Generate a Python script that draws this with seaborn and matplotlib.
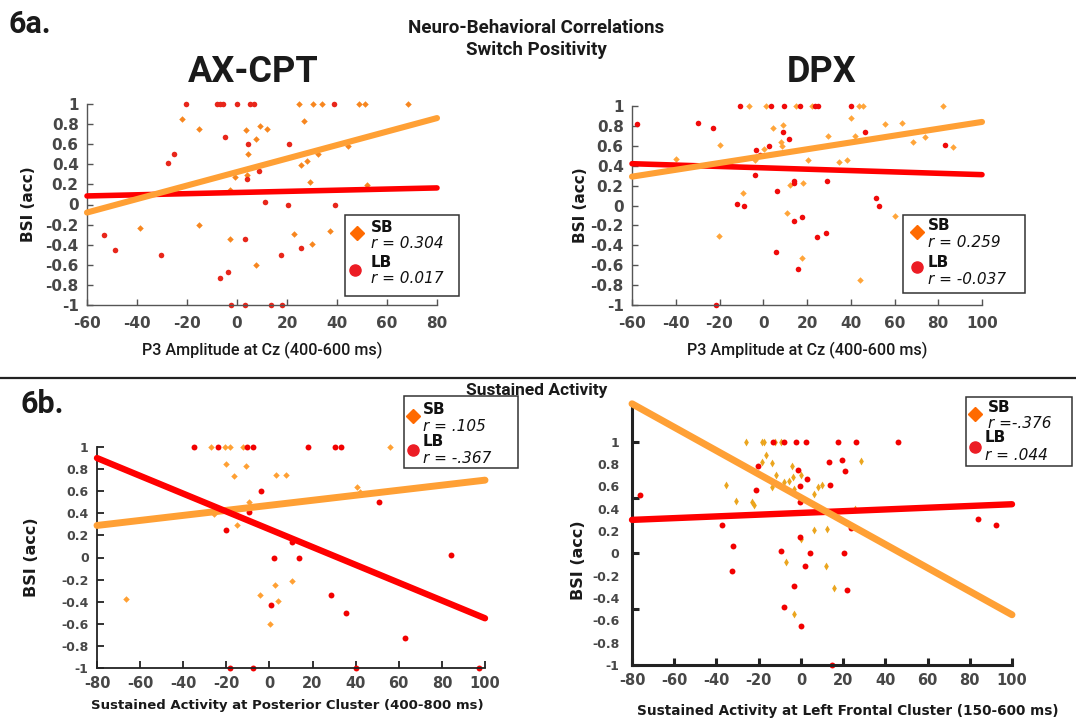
import numpy as np
import pandas as pd
import matplotlib
matplotlib.use("Agg")
import matplotlib.pyplot as plt
import seaborn as sns
from matplotlib.patches import Rectangle
from matplotlib.lines import Line2D

# ---------------- data ----------------
# Panel 6a left: AX-CPT
ax_sb_x = [-21.9, -15.2, 3.7, 9.3, 12, 7.7, 4.4, 26.7, 24.8, 30.4, 34.1, 48.8, 51.1, 68.4, 44.4,
           32.4, 25.7, 28.1, -0.8, 4, -2.9, 29.3, 52, -15.2, -38.8, -2.9, 22.8, 37.1, 29.9, 7.7]
ax_sb_y = [0.85, 0.75, 0.74, 0.78, 0.75, 0.65, 0.5, 0.83, 1, 1, 1, 1, 1, 1, 0.58,
           0.5, 0.39, 0.43, 0.27, 0.29, 0.14, 0.22, 0.19, -0.2, -0.23, -0.34, -0.29, -0.26, -0.39, -0.6]
ax_lb_x = [-20.3, -8, -7, -5.6, 0.1, 5.3, 6.7, 38.7, -4.7, 4.4, 20.8, -25.2, -27.6, 8.8, 4,
           11.3, 20.4, 39, -53.2, -49, -30.3, 3.3, 25.5, 17.7, -6.7, -3.7, -2.5, 3.1, 13.6, 18]
ax_lb_y = [1, 1, 1, 1, 1, 1, 1, 1, 0.67, 0.6, 0.6, 0.5, 0.41, 0.33, 0.25,
           0.02, 0, 0, -0.3, -0.45, -0.5, -0.34, -0.43, -0.5, -0.73, -0.67, -1, -1, -1, -1]
ax_fit_x = [-60, 80]
ax_sb_fit = [-0.08, 0.86]
ax_lb_fit = [0.085, 0.165]

# Panel 6a right: DPX
dpx_sb_x = [-6.6, 1.1, 14.8, 22.4, 43.8, 45.8, 82.1, 40.2, 4.6, 9.2, 8.1, 8.7, -19.8, -39.7, 0.5, -3.7, 20.3,
            29.8, 42, 34.8, 38.3, 55.7, 63.4, 68.4, 74, 86.7, 12.1, 18, -9.2, 11, 60, -20.3, 17.9, 44.3]
dpx_sb_y = [1, 1, 1, 1, 1, 1, 1, 0.88, 0.78, 0.81, 0.64, 0.6, 0.61, 0.47, 0.57, 0.46, 0.46,
            0.7, 0.7, 0.44, 0.46, 0.82, 0.83, 0.64, 0.69, 0.59, 0.21, 0.23, 0.13, -0.08, -0.11, -0.31, -0.53, -0.75]
dpx_lb_x = [-57.6, -29.8, -22.9, -10.8, 3.4, 9.5, 17, 23.7, 24.9, 40.2, 9.2, 11.6, -3.4, -1.4, 2.4, 46.6, 82.9,
            -3.8, 14.2, 14.2, 29.3, 6.1, -12.2, -9, 51.6, 52.7, 14.2, 17.9, 24.6, 28.5, 5.6, 16, -21.5]
dpx_lb_y = [0.82, 0.83, 0.78, 1, 1, 1, 1, 1, 1, 1, 0.74, 0.67, 0.56, 0.51, 0.6, 0.74, 0.61,
            0.31, 0.25, 0.23, 0.25, 0.15, 0.02, 0, 0.08, 0, -0.16, -0.12, -0.32, -0.28, -0.47, -0.64, -1]
dpx_fit_x = [-60, 100]
dpx_sb_fit = [0.29, 0.84]
dpx_lb_fit = [0.42, 0.31]

# Panel 6b left: posterior cluster
post_sb_x = [-27, -20.8, -18.5, -12.3, 55.7, -20.3, -11.1, -16.5, 3.2, 7.9, 40.7, 41.8, -9.5, -25.7,
             -15.1, 10.4, 2.8, -4.6, 4.2, 0.4, -66.7]
post_sb_y = [1, 1, 1, 1, 1, 0.85, 0.83, 0.74, 0.75, 0.75, 0.64, 0.59, 0.5, 0.39,
             0.29, -0.21, -0.25, -0.34, -0.39, -0.6, -0.38]
post_lb_x = [-35, -23.7, -10.4, -7.7, 18, 30.2, 33.3, -3.8, 50.8, -9.5, -20.3, 10.4, 2.1, 13.5, 84.3,
             28.7, 0.5, 35.3, 62.7, -18.5, -7.4, 40.2, 97.4]
post_lb_y = [1, 1, 1, 1, 1, 1, 1, 0.6, 0.5, 0.41, 0.25, 0.14, 0, 0, 0.02,
             -0.34, -0.43, -0.5, -0.73, -1, -1, -1, -1]
post_fit_x = [-80, 100]
post_sb_fit = [0.29, 0.70]
post_lb_fit = [0.90, -0.55]

# Panel 6b right: left frontal cluster
front_sb_x = [-25.9, -18.5, -17.7, -12.2, -9.5, -16.4, -18.3, -13.6, -4.3, -11.7, -3.8, 0, -7.9, -5.6, -13.8,
              -3.2, 8, 10.2, 6, -35.7, -30.8, -23, -22.1, 28.4, 6.3, 12.4, 0, -7.1, 12.1, 15.7, -3.5, 25.4]
front_sb_y = [1, 1, 1, 1, 1, 0.88, 0.82, 0.81, 0.78, 0.7, 0.68, 0.7, 0.64, 0.65, 0.59,
              0.58, 0.59, 0.61, 0.53, 0.61, 0.47, 0.46, 0.43, 0.83, 0.21, 0.22, 0.13, -0.08, -0.11, -0.31, -0.54, 0.4]
front_lb_x = [-13.4, -8.2, -2.4, 2.3, 17.8, 26.3, 46, -20.2, -1.5, 2.8, 13.5, 19.4, 21.1, -21.5, -0.5, 14, -0.3,
              -76.4, -37.4, -32.2, -32.4, -0.3, -9.2, 4.1, 20.2, 2, 23.5, -3.5, 22, -7.8, 0.1, 14.8, 84, 92.2]
front_lb_y = [1, 1, 1, 1, 1, 1, 1, 0.78, 0.75, 0.67, 0.82, 0.84, 0.74, 0.57, 0.6, 0.61, 0.46,
              0.52, 0.25, 0.07, -0.16, 0.15, 0.02, 0, 0, -0.11, 0.23, -0.29, -0.33, -0.48, -0.65, -1, 0.31, 0.25]
front_fit_x = [-80, 100]
front_sb_fit = [1.34, -0.55]
front_lb_fit = [0.30, 0.44]

y_ticks = [1, 0.8, 0.6, 0.4, 0.2, 0, -0.2, -0.4, -0.6, -0.8, -1]
y_tick_labels = ["1", "0.8", "0.6", "0.4", "0.2", "0", "-0.2", "-0.4", "-0.6", "-0.8", "-1"]
x_ticks_ax = [-60, -40, -20, 0, 20, 40, 60, 80]
x_ticks_dpx = [-60, -40, -20, 0, 20, 40, 60, 80, 100]
x_ticks_b = [-80, -60, -40, -20, 0, 20, 40, 60, 80, 100]

legend_r = {"ax": ("r = 0.304", "r = 0.017"), "dpx": ("r = 0.259", "r = -0.037"),
            "post": ("r = .105", "r = -.367"), "front": ("r =-.376", "r = .044")}

# ---------------- style ----------------
sns.set_theme(style="white")
plt.rcParams['font.family'] = ['DejaVu Sans']
COND = ['Noto Sans Condensed', 'Liberation Sans Narrow', 'Roboto', 'DejaVu Sans']

W, H = 1076, 721
fig = plt.figure(figsize=(W / 100, H / 100), dpi=100)
fig.patch.set_facecolor("white")


def fx(px):
    return px / W


def fy(py):
    return 1 - py / H


def make_ax(l, t, r, b):
    return fig.add_axes([fx(l), fy(b), (r - l) / W, (b - t) / H])


ORANGE_LINE = "#FFA035"
RED_LINE = "#FF0000"
TICK_COL = "#474747"


def draw_panel(ax, sbx, sby, lbx, lby, fitx, sbfit, lbfit, sb_col, lb_col, sb_marker, sb_s, lb_s,
               red_on_top=False, lw=4.3):
    sns.scatterplot(x=sbx, y=sby, ax=ax, marker=sb_marker, color=sb_col, s=sb_s, linewidth=0,
                    clip_on=False, zorder=2)
    sns.scatterplot(x=lbx, y=lby, ax=ax, marker="o", color=lb_col, s=lb_s, linewidth=0,
                    clip_on=False, zorder=2)
    zr, zo = (4, 3) if red_on_top else (3, 4)
    sns.lineplot(x=fitx, y=lbfit, ax=ax, color=RED_LINE, lw=lw, zorder=zr, clip_on=False)
    sns.lineplot(x=fitx, y=sbfit, ax=ax, color=ORANGE_LINE, lw=lw + 0.4, zorder=zo, clip_on=False)


def style_axes(ax, xlim, ylim, xticks, spine_col, spine_lw, xfs, yfs, tick_len=4, xpad=6):
    ax.set_xlim(xlim)
    ax.set_ylim(ylim)
    ax.set_facecolor("white")
    for s in ["top", "right"]:
        ax.spines[s].set_visible(False)
    for s in ["left", "bottom"]:
        ax.spines[s].set_color(spine_col)
        ax.spines[s].set_linewidth(spine_lw)
    ax.set_xticks(xticks)
    ax.set_xticklabels([str(v) for v in xticks], fontsize=xfs, fontweight="bold", color=TICK_COL)
    ax.tick_params(axis="both", which="major", direction="in", length=tick_len, width=spine_lw,
                   color=spine_col, left=True, bottom=True)
    ax.tick_params(axis="x", pad=xpad)
    ax.tick_params(axis="y", pad=6)
    ax.grid(False)


# ---------- Panel 1: AX-CPT ----------
ax1 = make_ax(87, 104, 437, 305)
draw_panel(ax1, ax_sb_x, ax_sb_y, ax_lb_x, ax_lb_y, ax_fit_x, ax_sb_fit, ax_lb_fit,
           "#F7861F", "#E8261A", "D", 11, 16, lw=4.0)
style_axes(ax1, (-60, 80), (-1, 1), x_ticks_ax, "#555555", 1.0, 11, 11, xpad=8)
ax1.set_yticks(y_ticks)
ax1.set_yticklabels(y_tick_labels, fontsize=11, fontweight="bold", color=TICK_COL)
ax1.set_xlabel("P3 Amplitude at Cz (400-600 ms)", fontsize=11.6, family=COND, fontweight="medium",
               color="#1a1a1a", va="top")
ax1.xaxis.set_label_coords(0.5, -0.185)
ax1.set_ylabel("BSI (acc)", fontsize=11, fontweight="bold", color="#1a1a1a")
ax1.yaxis.set_label_coords(-0.145, 0.5)

# ---------- Panel 2: DPX ----------
ax2 = make_ax(632, 106, 982, 305)
draw_panel(ax2, dpx_sb_x, dpx_sb_y, dpx_lb_x, dpx_lb_y, dpx_fit_x, dpx_sb_fit, dpx_lb_fit,
           "#FFA53A", "#F00A0A", "D", 11, 16, lw=4.0)
style_axes(ax2, (-60, 100), (-1, 1), x_ticks_dpx, "#555555", 1.0, 11, 11, xpad=8)
ax2.set_yticks(y_ticks)
ax2.set_yticklabels(y_tick_labels, fontsize=11, fontweight="bold", color=TICK_COL)
ax2.set_xlabel("P3 Amplitude at Cz (400-600 ms)", fontsize=11.6, family=COND, fontweight="medium",
               color="#1a1a1a", va="top")
ax2.xaxis.set_label_coords(0.5, -0.185)
ax2.set_ylabel("BSI (acc)", fontsize=11, fontweight="bold", color="#1a1a1a")
ax2.yaxis.set_label_coords(-0.125, 0.5)

# ---------- Panel 3: posterior ----------
ax3 = make_ax(97, 447, 485, 668)
draw_panel(ax3, post_sb_x, post_sb_y, post_lb_x, post_lb_y, post_fit_x, post_sb_fit, post_lb_fit,
           "#FFA033", "#F20000", "D", 11, 18, red_on_top=True, lw=4.6)
style_axes(ax3, (-80, 100), (-1, 1), x_ticks_b, "#222222", 1.3, 10.5, 9, tick_len=5)
ax3.set_yticks(y_ticks)
ax3.set_yticklabels(y_tick_labels, fontsize=9, fontweight="bold", color=TICK_COL)
ax3.set_xlabel("Sustained Activity at Posterior Cluster (400-800 ms)", fontsize=9.5, fontweight="bold",
               color="#1a1a1a", va="top")
ax3.xaxis.set_label_coords(0.49, -0.14)
ax3.set_ylabel("BSI (acc)", fontsize=11.5, fontweight="bold", color="#1a1a1a")
ax3.yaxis.set_label_coords(-0.15, 0.5)

# ---------- Panel 4: frontal ----------
ax4 = make_ax(632, 406, 1012, 665)
draw_panel(ax4, front_sb_x, front_sb_y, front_lb_x, front_lb_y, front_fit_x, front_sb_fit, front_lb_fit,
           "#EBA51E", "#F20000", "d", 16, 18, lw=4.6)
style_axes(ax4, (-80, 100), (-1, 1.32), x_ticks_b, "#222222", 2.2, 10.5, 9, tick_len=5)
ax4.yaxis.remove_overlapping_locs = False
ax4.set_yticks([-1, -0.5, 0, 0.5, 1])
ax4.set_yticklabels([])
ax4.set_yticks(y_ticks, labels=y_tick_labels, minor=True)
for lab in ax4.get_yticklabels(minor=True):
    lab.set_fontsize(9)
    lab.set_fontweight("bold")
    lab.set_color(TICK_COL)
ax4.tick_params(axis="y", which="minor", length=0, left=True, pad=9)
ax4.set_xlabel("Sustained Activity at Left Frontal Cluster (150-600 ms)", fontsize=9.8, fontweight="bold",
               color="#1a1a1a", va="top")
ax4.xaxis.set_label_coords(0.568, -0.15)
ax4.set_ylabel("BSI (acc)", fontsize=11.5, fontweight="bold", color="#1a1a1a")
ax4.yaxis.set_label_coords(-0.12, 0.405)


# ---------- legends ----------
def draw_legend(box, dmk, cmk, sb_xy, r1_xy, lb_xy, r2_xy, texts, fs=11):
    l, t, r, b = box
    fig.add_artist(Rectangle((fx(l), fy(b)), (r - l) / W, (b - t) / H, transform=fig.transFigure,
                             facecolor="white", edgecolor="#333333", lw=1.1, zorder=10))
    fig.add_artist(Line2D([fx(dmk[0])], [fy(dmk[1])], transform=fig.transFigure, marker="D",
                          markersize=7, color="#FF6A00", lw=0, zorder=11))
    fig.add_artist(Line2D([fx(cmk[0])], [fy(cmk[1])], transform=fig.transFigure, marker="o",
                          markersize=8, color="#EC1C24", lw=0, zorder=11))
    fig.text(fx(sb_xy[0]), fy(sb_xy[1]), "SB", fontsize=fs, fontweight="bold", va="center", ha="left",
             color="#111111", zorder=11)
    fig.text(fx(r1_xy[0]), fy(r1_xy[1]), texts[0], fontsize=fs, fontstyle="italic", va="center", ha="left",
             color="#111111", zorder=11)
    fig.text(fx(lb_xy[0]), fy(lb_xy[1]), "LB", fontsize=fs, fontweight="bold", va="center", ha="left",
             color="#111111", zorder=11)
    fig.text(fx(r2_xy[0]), fy(r2_xy[1]), texts[1], fontsize=fs, fontstyle="italic", va="center", ha="left",
             color="#111111", zorder=11)


draw_legend((345, 215, 459, 296), (357, 233), (355, 270), (371, 227), (371, 243), (371, 262), (371, 278),
            legend_r["ax"])
draw_legend((903, 215, 1025, 293), (917, 232), (917, 267), (928, 225), (928, 242), (928, 262), (928, 279),
            legend_r["dpx"])
draw_legend((404, 396, 518, 468), (413, 416), (413, 450), (423, 409), (423, 427), (423, 442), (423, 458),
            legend_r["post"])
draw_legend((966, 397, 1072, 466), (975, 414), (975, 447), (988, 408), (988, 424), (985, 438), (985, 455),
            legend_r["front"])

# ---------- headings ----------
fig.text(fx(9), fy(24), "6a.", fontsize=22, fontweight="bold", family=COND,
         va="center", ha="left", color="#1a1a1a")
fig.text(fx(536), fy(28), "Neuro-Behavioral Correlations", fontsize=13.5, fontweight="bold", family=COND,
         va="center", ha="center", color="#1a1a1a")
fig.text(fx(536), fy(50), "Switch Positivity", fontsize=13.5, fontweight="bold", family=COND,
         va="center", ha="center", color="#1a1a1a")
fig.text(fx(253), fy(72), "AX-CPT", fontsize=26, fontweight="bold", family=COND,
         va="center", ha="center", color="#1a1a1a")
fig.text(fx(822), fy(72), "DPX", fontsize=26, fontweight="bold", family=COND,
         va="center", ha="center", color="#1a1a1a")
fig.text(fx(537), fy(390), "Sustained Activity", fontsize=12.5, fontweight="bold", family=COND,
         va="center", ha="center", color="#1a1a1a")
fig.text(fx(20), fy(404), "6b.", fontsize=22, fontweight="bold", family=COND,
         va="center", ha="left", color="#1a1a1a")
fig.add_artist(Line2D([0, 1], [fy(378), fy(378)], transform=fig.transFigure, color="#222222", lw=1.6))

fig.savefig("out.png", dpi=100, facecolor="white")
